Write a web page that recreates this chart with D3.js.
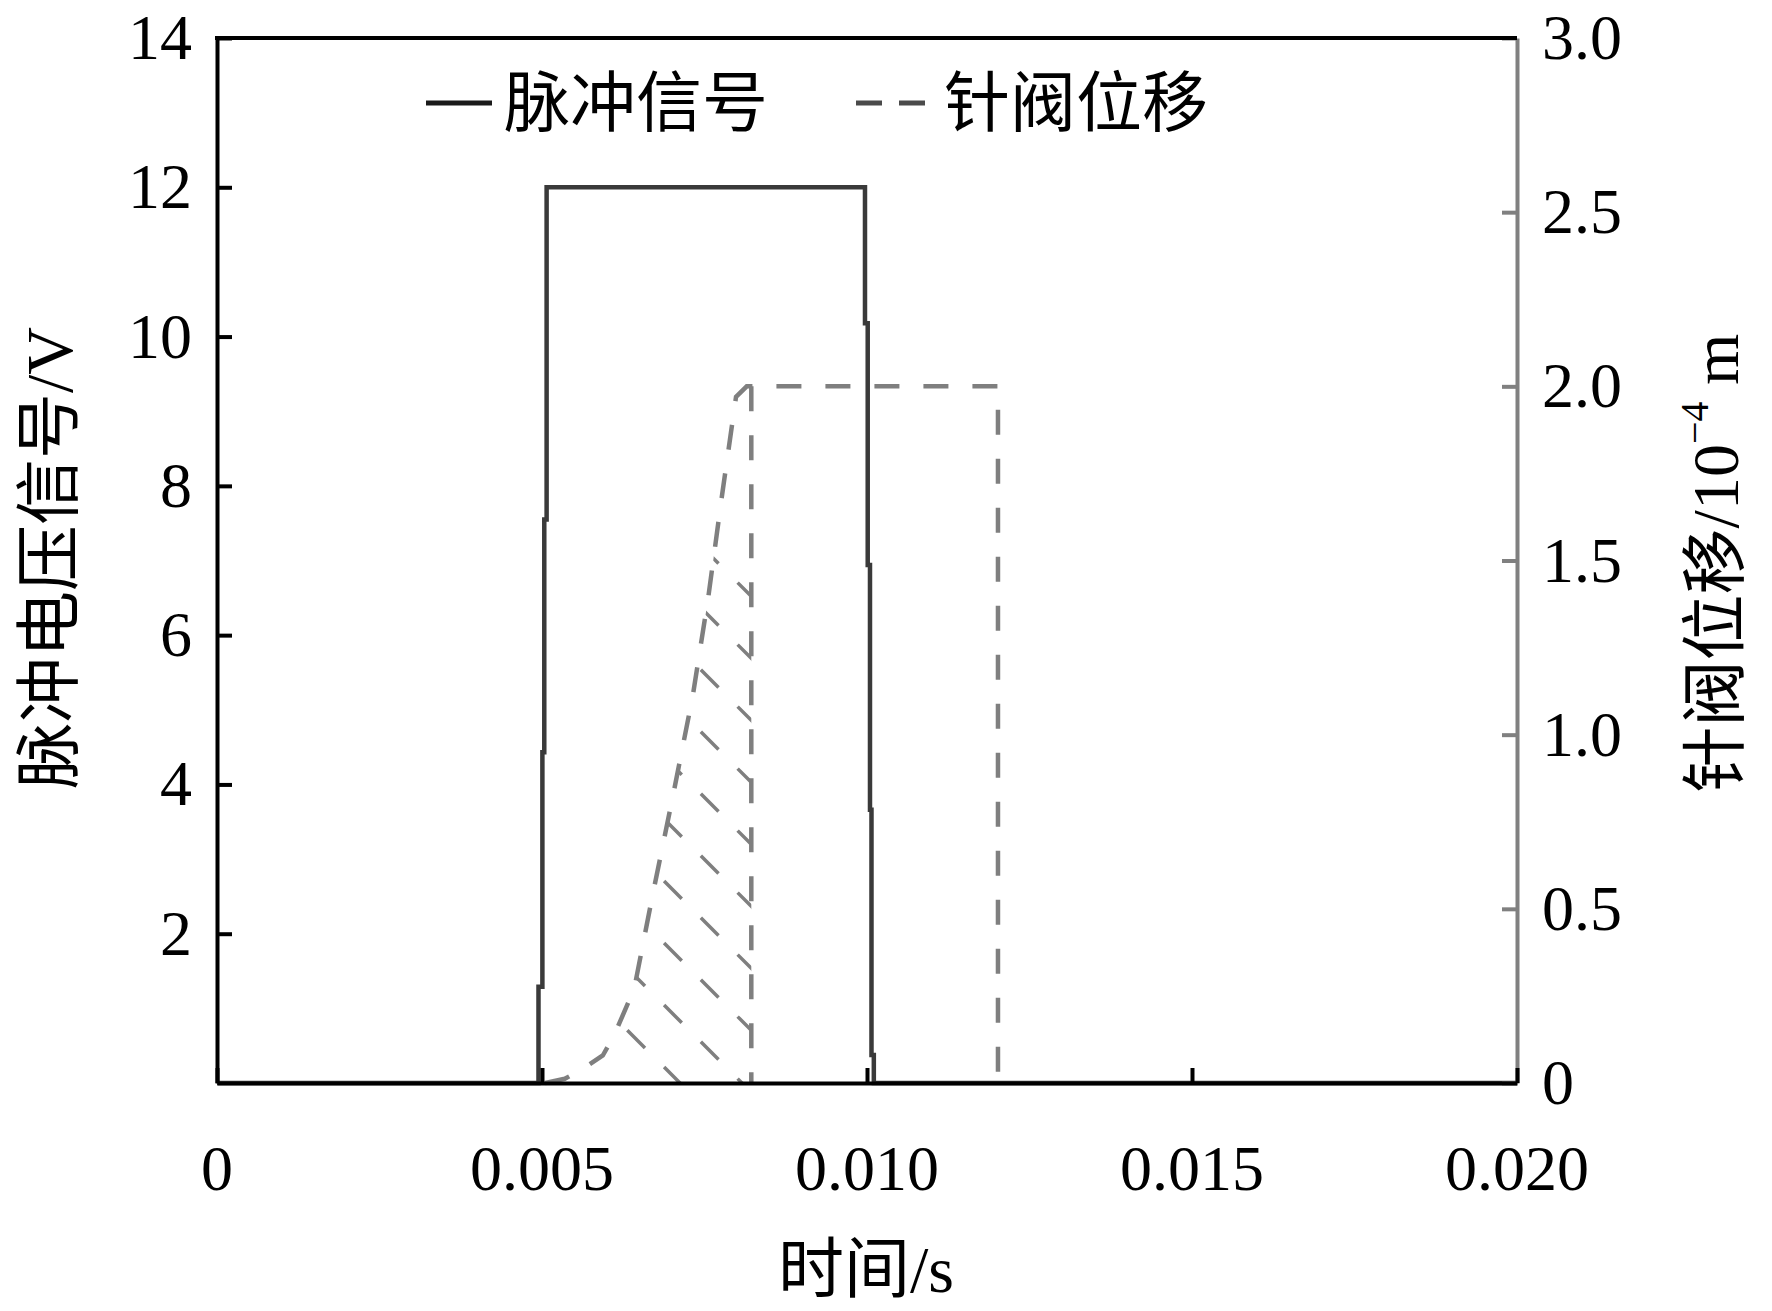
<!DOCTYPE html>
<html>
<head>
<meta charset="utf-8">
<script src="https://cdn.jsdelivr.net/npm/d3@7"></script>
<style>
  html, body { margin: 0; width: 100%; height: 100%; background: #fff; overflow: hidden; }
  #chart { width: 100%; height: 100%; }
  svg { display: block; }
</style>
</head>
<body>
<div id="chart"></div>
<script>
// axis ticks
var timeTicks = [0, 0.005, 0.010, 0.015, 0.020];
var voltTicks = [2, 4, 6, 8, 10, 12, 14];
var dispTicks = [0, 0.5, 1.0, 1.5, 2.0, 2.5, 3.0];

// pulse signal (V) - the edges are a little stepped
var pulseT = [0, 0.004946, 0.004946, 0.005006, 0.005006, 0.005035, 0.005035, 0.005071, 0.005071,
              0.009969, 0.009969, 0.010011, 0.010011, 0.010046, 0.010046, 0.010069, 0.010069, 0.010105, 0.010105, 0.020];
var pulseV = [0, 0, 1.29, 1.29, 4.43, 4.43, 7.55, 7.55, 12,
              12, 10.18, 10.18, 6.94, 6.94, 3.66, 3.66, 0.375, 0.375, 0, 0];

// needle valve lift (10^-4 m)
var needleT = [0.00505, 0.00535, 0.005642, 0.005935, 0.006112, 0.006418, 0.006702, 0.007025,
               0.00732, 0.007555, 0.007762, 0.007985, 0.00815, 0.012015, 0.012015];
var needleD = [0, 0.012, 0.042, 0.079, 0.138, 0.27, 0.54, 0.834,
               1.112, 1.39, 1.677, 1.97, 2.0, 2.0, 0];

// vertical edge of the hatched area
var hatchT = 0.00822;

var legendNames = ["脉冲信号", "针阀位移"];

var totalWidth = 1772, totalHeight = 1311;
var margins = {top: 38, right: 255, bottom: 228, left: 217};
var innerWidth = totalWidth - margins.left - margins.right;
var innerHeight = totalHeight - margins.top - margins.bottom;

var pulseColor = "#3a3a3a";
var needleColor = "#7f7f7f";
var numFont = "'Liberation Serif', 'Times New Roman', serif";
var titleFont = "'Liberation Serif', 'Noto Sans CJK SC', serif";

// the svg scales with the window; at 1772x1311 it is 1:1
var root = d3.select("#chart").append("svg")
    .attr("width", "100%")
    .attr("height", "100%")
    .attr("viewBox", "0 0 " + totalWidth + " " + totalHeight)
    .attr("preserveAspectRatio", "xMidYMid meet");

var svg = root.append("g")
    .attr("transform", "translate(" + margins.left + "," + margins.top + ")");

var xSca = d3.scaleLinear().domain([0, 0.020]).range([0, innerWidth]);
var ySca = d3.scaleLinear().domain([0, 14]).range([innerHeight, 0]);
var y2Sca = d3.scaleLinear().domain([0, 3.0]).range([innerHeight, 0]);

var pulseData = pulseT.map(function(t, i) { return {t: t, v: pulseV[i]}; });
var needleData = needleT.map(function(t, i) { return {t: t, v: needleD[i]}; });

// hatched region: rising edge of the lift curve up to the vertical line
var hatchPoly = needleData.filter(function(d) { return d.t <= hatchT; })
    .map(function(d) { return [xSca(d.t), y2Sca(d.v)]; });
hatchPoly.push([xSca(hatchT), y2Sca(2.0)]);
hatchPoly.push([xSca(hatchT), y2Sca(0)]);

svg.append("defs").append("clipPath")
    .attr("id", "hatchClip")
    .append("path")
    .attr("d", "M" + hatchPoly.join("L") + "Z");

var hatch = svg.append("g").attr("clip-path", "url(#hatchClip)");
hatch.selectAll("line")
    .data(d3.range(-155, 460, 62))
    .enter().append("line")
    .attr("x1", 300).attr("y1", function(c) { return 300 + c + margins.left - margins.top; })
    .attr("x2", 560).attr("y2", function(c) { return 560 + c + margins.left - margins.top; })
    .attr("stroke", needleColor)
    .attr("stroke-width", 3.5)
    .attr("stroke-dasharray", "25,27");

// lift curve
svg.append("path")
    .datum(needleData)
    .attr("fill", "none")
    .attr("stroke", needleColor)
    .attr("stroke-width", 4.5)
    .attr("stroke-dasharray", "25,24")
    .attr("d", d3.line().x(function(d) { return xSca(d.t); }).y(function(d) { return y2Sca(d.v); }));

svg.append("line")
    .attr("x1", xSca(hatchT)).attr("x2", xSca(hatchT))
    .attr("y1", y2Sca(2.0)).attr("y2", y2Sca(0))
    .attr("stroke", needleColor)
    .attr("stroke-width", 4.5)
    .attr("stroke-dasharray", "25,24");

// pulse
svg.append("path")
    .datum(pulseData)
    .attr("fill", "none")
    .attr("stroke", pulseColor)
    .attr("stroke-width", 4.5)
    .attr("d", d3.line().x(function(d) { return xSca(d.t); }).y(function(d) { return ySca(d.v); }));

// axes (labels are placed by hand below, the axes give the lines and ticks)
var xAxis = d3.axisBottom(xSca).tickValues(timeTicks).tickSizeInner(-15).tickSizeOuter(0).tickFormat("");
var yAxis = d3.axisLeft(ySca).tickValues(voltTicks).tickSizeInner(-15).tickSizeOuter(0).tickFormat("");
var y2Axis = d3.axisRight(y2Sca).tickValues(dispTicks).tickSizeInner(-15).tickSizeOuter(0).tickFormat("");

var yAA = svg.append("g").attr("class", "y axis").call(yAxis);
var y2AA = svg.append("g").attr("class", "y2 axis")
    .attr("transform", "translate(" + innerWidth + ",0)").call(y2Axis);
var xAA = svg.append("g").attr("class", "x axis")
    .attr("transform", "translate(0," + innerHeight + ")").call(xAxis);

[xAA, yAA, y2AA].forEach(function(a) { a.selectAll("text").remove(); });
yAA.selectAll("path, line").attr("stroke", "#000").attr("stroke-width", 4);
xAA.selectAll("path, line").attr("stroke", "#000").attr("stroke-width", 4);
y2AA.selectAll("path, line").attr("stroke", "#808080").attr("stroke-width", 4);

// tick labels
var fmtX = function(d) { return d === 0 ? "0" : d3.format(".3f")(d); };
var fmtY2 = function(d) { return d === 0 ? "0" : d3.format(".1f")(d); };

svg.append("g").selectAll("text")
    .data(timeTicks).enter().append("text")
    .attr("x", function(d) { return xSca(d); })
    .attr("y", innerHeight + 107)
    .attr("text-anchor", "middle")
    .attr("font-family", numFont).attr("font-size", 64).attr("fill", "#000")
    .text(fmtX);

svg.append("g").selectAll("text")
    .data(voltTicks).enter().append("text")
    .attr("x", -25)
    .attr("y", function(d) { return ySca(d) + 21; })
    .attr("text-anchor", "end")
    .attr("font-family", numFont).attr("font-size", 64).attr("fill", "#000")
    .text(d3.format("d"));

svg.append("g").selectAll("text")
    .data(dispTicks).enter().append("text")
    .attr("x", innerWidth + 25)
    .attr("y", function(d) { return y2Sca(d) + 21; })
    .attr("text-anchor", "start")
    .attr("font-family", numFont).attr("font-size", 64).attr("fill", "#000")
    .text(fmtY2);

// top border
svg.append("line")
    .attr("x1", -2).attr("x2", innerWidth)
    .attr("y1", 0).attr("y2", 0)
    .attr("stroke", "#000").attr("stroke-width", 4);

// axis titles
function title(sel) {
    return sel.append("text")
        .attr("font-family", titleFont)
        .attr("font-size", 66)
        .attr("fill", "#000");
}

title(root)
    .attr("transform", "translate(72,558) rotate(-90)")
    .attr("text-anchor", "middle")
    .text("脉冲电压信号/V");

title(root)
    .attr("x", 866)
    .attr("y", 1292)
    .attr("text-anchor", "middle")
    .text("时间/s");

var rt = title(root)
    .attr("transform", "translate(1738,563) rotate(-90)")
    .attr("text-anchor", "middle");
rt.append("tspan").text("针阀位移/10");
rt.append("tspan").attr("dy", -30).attr("font-size", 40).text("\u22124");
rt.append("tspan").attr("dy", 30).text(" m");

// legend
var legend = root.append("g").attr("transform", "translate(0,103)");
legend.append("line")
    .attr("x1", 426).attr("x2", 492)
    .attr("y1", 0).attr("y2", 0)
    .attr("stroke", "#1a1a1a").attr("stroke-width", 5);
title(legend)
    .attr("x", 504).attr("y", 23)
    .text(legendNames[0]);
legend.append("line")
    .attr("x1", 856).attr("x2", 925)
    .attr("y1", 0).attr("y2", 0)
    .attr("stroke", "#4a4a4a").attr("stroke-width", 5)
    .attr("stroke-dasharray", "26,17");
title(legend)
    .attr("x", 944).attr("y", 23)
    .text(legendNames[1]);
</script>
</body>
</html>
